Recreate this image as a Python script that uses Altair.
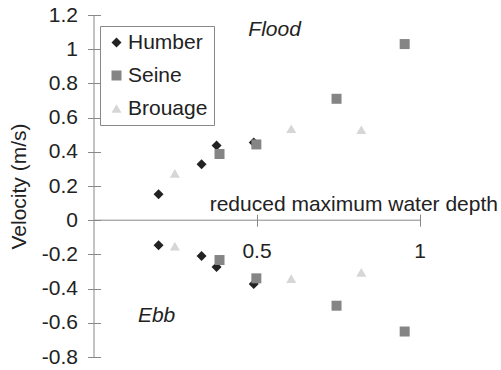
import altair as alt
import pandas as pd

# ---- data ----
series = ["Humber", "Seine", "Brouage"]
series_colors = ["#222222", "#858585", "#d6d6d6"]
series_shapes = ["diamond", "square", "triangle-up"]

humber_x = [0.198, 0.330, 0.376, 0.490]
humber_flood = [0.152, 0.327, 0.437, 0.455]
humber_ebb = [-0.146, -0.210, -0.274, -0.373]

seine_x = [0.385, 0.498, 0.744, 0.953]
seine_flood = [0.387, 0.443, 0.710, 1.030]
seine_ebb = [-0.233, -0.340, -0.500, -0.651]

brouage_x = [0.248, 0.605, 0.820]
brouage_flood = [0.274, 0.535, 0.529]
brouage_ebb = [-0.152, -0.342, -0.305]

y_ticks = [-0.8, -0.6, -0.4, -0.2, 0, 0.2, 0.4, 0.6, 0.8, 1, 1.2]
x_ticks = [0.5, 1]
x_tick_labels = ["0.5", "1"]
x_tick_label_y = [-0.185, -0.185]

annot_text = ["Flood", "Ebb"]
annot_x = [0.554, 0.192]
annot_y = [1.111, -0.561]

xlabel_text = ["reduced maximum water depth"]
xlabel_x = [0.797]
xlabel_y = [0.088]

origin = [0]

# ---- build table ----
rows = []
for name, xs, fl, eb in [
    ("Humber", humber_x, humber_flood, humber_ebb),
    ("Seine", seine_x, seine_flood, seine_ebb),
    ("Brouage", brouage_x, brouage_flood, brouage_ebb),
]:
    for x, v in zip(xs, fl):
        rows.append({"series": name, "depth": x, "velocity": v})
    for x, v in zip(xs, eb):
        rows.append({"series": name, "depth": x, "velocity": v})
df = pd.DataFrame(rows)

FONT = "Liberation Sans"
FS = 21
TXT = "#222222"
AX = "#888888"
W, H = 326, 342
y_min, y_max = -0.8, 1.2
zero_px = H * y_max / (y_max - y_min)

x_scale = alt.Scale(domain=[0, 1], nice=False, zero=False)
y_scale = alt.Scale(domain=[y_min, y_max], nice=False, zero=False)

x_axis = alt.Axis(values=x_ticks, offset=-(H - zero_px) - 6, tickSize=12,
                  domain=False, grid=False, title=None, labels=False,
                  tickColor=AX)
y_axis = alt.Axis(values=y_ticks, offset=-6.5, tickSize=13,
                  domain=False, grid=False, title="Velocity (m/s)",
                  titleFontSize=FS, titleFont=FONT, titleFontWeight="normal",
                  titleColor=TXT, titlePadding=12,
                  labelFontSize=FS, labelPadding=10, labelFont=FONT,
                  labelColor=TXT, tickColor=AX,
                  labelExpr="'' + datum.value")


def X(field):
    return alt.X(field, scale=x_scale, axis=x_axis)


def Y(field):
    return alt.Y(field, scale=y_scale, axis=y_axis)


points = alt.Chart(df).mark_point(filled=True, opacity=1, size=100, strokeWidth=0).encode(
    x=X("depth:Q"),
    y=Y("velocity:Q"),
    color=alt.Color("series:N", scale=alt.Scale(domain=series, range=series_colors),
                    legend=alt.Legend(title=None)),
    shape=alt.Shape("series:N", scale=alt.Scale(domain=series, range=series_shapes),
                    legend=alt.Legend(title=None)),
)

origin_df = pd.DataFrame({"depth": origin, "velocity": origin})
vrule = alt.Chart(origin_df).mark_rule(color=AX, strokeWidth=1).encode(x=X("depth:Q"))
hrule = alt.Chart(origin_df).mark_rule(color=AX, strokeWidth=1).encode(y=Y("velocity:Q"))

xt_df = pd.DataFrame({"t": x_tick_labels, "depth": x_ticks, "velocity": x_tick_label_y})
xticklab = alt.Chart(xt_df).mark_text(
    font=FONT, fontSize=FS, color=TXT, align="center", baseline="middle"
).encode(x=X("depth:Q"), y=Y("velocity:Q"), text="t:N")

annot_df = pd.DataFrame({"t": annot_text, "depth": annot_x, "velocity": annot_y})
annot = alt.Chart(annot_df).mark_text(
    font=FONT, fontSize=FS, fontStyle="italic", color=TXT, align="center", baseline="middle"
).encode(x=X("depth:Q"), y=Y("velocity:Q"), text="t:N")

xl_df = pd.DataFrame({"t": xlabel_text, "depth": xlabel_x, "velocity": xlabel_y})
xlab = alt.Chart(xl_df).mark_text(
    font=FONT, fontSize=FS, color=TXT, align="center", baseline="middle"
).encode(x=X("depth:Q"), y=Y("velocity:Q"), text="t:N")

chart = alt.layer(points, vrule, hrule, xticklab, annot, xlab).properties(
    width=W, height=H,
    autosize=alt.AutoSizeParams(type="none"),
    padding={"left": 94, "top": 15, "right": 81, "bottom": 13},
    background="white",
).configure_view(stroke=None).configure_legend(
    orient="none", legendX=6, legendY=11,
    strokeColor=AX, fillColor="white", padding=6, rowPadding=11,
    labelFontSize=FS, labelFont=FONT, labelColor=TXT, labelOffset=1,
    symbolSize=100, symbolStrokeWidth=0,
)

chart.save("out.html", embed_options={"renderer": "svg", "actions": False})
